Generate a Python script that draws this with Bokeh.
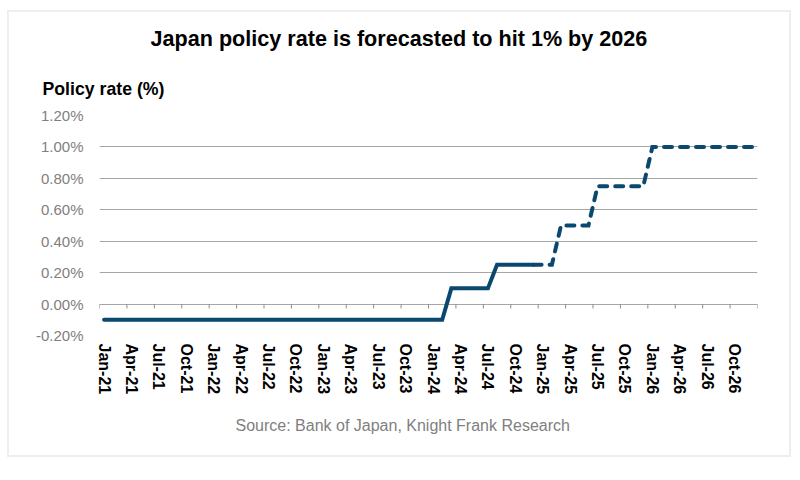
import math
from bokeh.plotting import figure
from bokeh.models import Range1d, FixedTicker, Title
from bokeh.embed import file_html
from bokeh.resources import INLINE

# ---- data (percent) ----
months = [
    "Jan-21","Feb-21","Mar-21","Apr-21","May-21","Jun-21","Jul-21","Aug-21","Sep-21","Oct-21","Nov-21","Dec-21",
    "Jan-22","Feb-22","Mar-22","Apr-22","May-22","Jun-22","Jul-22","Aug-22","Sep-22","Oct-22","Nov-22","Dec-22",
    "Jan-23","Feb-23","Mar-23","Apr-23","May-23","Jun-23","Jul-23","Aug-23","Sep-23","Oct-23","Nov-23","Dec-23",
    "Jan-24","Feb-24","Mar-24","Apr-24","May-24","Jun-24","Jul-24","Aug-24","Sep-24","Oct-24","Nov-24","Dec-24",
    "Jan-25","Feb-25","Mar-25","Apr-25","May-25","Jun-25","Jul-25","Aug-25","Sep-25","Oct-25","Nov-25","Dec-25",
    "Jan-26","Feb-26","Mar-26","Apr-26","May-26","Jun-26","Jul-26","Aug-26","Sep-26","Oct-26","Nov-26","Dec-26",
]

# actual policy rate, Jan-21 .. Dec-24
actual = [
    -0.10, -0.10, -0.10, -0.10, -0.10, -0.10, -0.10, -0.10, -0.10, -0.10, -0.10, -0.10,
    -0.10, -0.10, -0.10, -0.10, -0.10, -0.10, -0.10, -0.10, -0.10, -0.10, -0.10, -0.10,
    -0.10, -0.10, -0.10, -0.10, -0.10, -0.10, -0.10, -0.10, -0.10, -0.10, -0.10, -0.10,
    -0.10, -0.10, 0.10, 0.10, 0.10, 0.10, 0.10, 0.25, 0.25, 0.25, 0.25, 0.25,
]
# forecast, Dec-24 .. Dec-26
forecast = [
    0.25,
    0.25, 0.25, 0.50, 0.50, 0.50, 0.50, 0.75, 0.75, 0.75, 0.75, 0.75, 0.75,
    1.00, 1.00, 1.00, 1.00, 1.00, 1.00, 1.00, 1.00, 1.00, 1.00, 1.00, 1.00,
]

x_tick_labels = ["Jan-21","Apr-21","Jul-21","Oct-21","Jan-22","Apr-22","Jul-22","Oct-22",
                 "Jan-23","Apr-23","Jul-23","Oct-23","Jan-24","Apr-24","Jul-24","Oct-24",
                 "Jan-25","Apr-25","Jul-25","Oct-25","Jan-26","Apr-26","Jul-26","Oct-26"]
y_ticks = [-0.2, 0.0, 0.2, 0.4, 0.6, 0.8, 1.0, 1.2]
y_tick_labels = ["-0.20%", "0.00%", "0.20%", "0.40%", "0.60%", "0.80%", "1.00%", "1.20%"]

title_text = "Japan policy rate is forecasted to hit 1% by 2026"
ylabel_text = "Policy rate (%)"
source_text = "Source: Bank of Japan, Knight Frank Research"

FONT = "Liberation Sans"
LINE_COLOR = "#0b4870"
GRID = "#a6a6a6"

x_actual = [months.index(m) for m in months[:len(actual)]]
start_fc = len(actual) - 1
x_forecast = [start_fc + i for i in range(len(forecast))]

p = figure(width=784, height=447, output_backend="svg", toolbar_location=None,
           x_range=Range1d(-0.5, len(months) - 0.5), y_range=Range1d(-0.2, 1.2),
           min_border_left=90, min_border_right=36, min_border_top=103, min_border_bottom=124)
p.styles = {"border": "2px solid #eeeeee", "margin-top": "10px", "margin-left": "7px"}
p.outline_line_color = None
p.background_fill_color = "white"
p.border_fill_color = "white"

# y axis
p.yaxis.ticker = FixedTicker(ticks=y_ticks)
p.yaxis.major_label_overrides = {t: l for t, l in zip(y_ticks, y_tick_labels)}
p.yaxis.axis_line_color = None
p.yaxis.major_tick_line_color = None
p.yaxis.minor_tick_line_color = None
p.yaxis.major_label_text_font = FONT
p.yaxis.major_label_text_font_size = "15px"
p.yaxis.major_label_text_color = "#808080"
p.yaxis.major_label_standoff = 10

p.ygrid.ticker = FixedTicker(ticks=y_ticks)
p.ygrid.grid_line_color = GRID
p.ygrid.grid_line_width = 1
p.xgrid.grid_line_color = None

# x axis (labels only, below)
label_pos = [months.index(l) for l in x_tick_labels]
p.xaxis.ticker = FixedTicker(ticks=label_pos)
p.xaxis.major_label_overrides = {t: l for t, l in zip(label_pos, x_tick_labels)}
p.xaxis.major_label_orientation = -math.pi / 2
p.xaxis.axis_line_color = None
p.xaxis.major_tick_line_color = None
p.xaxis.minor_tick_line_color = None
p.xaxis.major_label_text_font = FONT
p.xaxis.major_label_text_font_style = "bold"
p.xaxis.major_label_text_font_size = "16px"
p.xaxis.major_label_text_color = "black"
p.xaxis.major_label_standoff = 2

# category-boundary tick marks on the zero line
bounds = [b - 0.5 for b in range(0, len(months) + 1, 3)]
p.segment(x0=bounds, y0=[0.0] * len(bounds), x1=bounds, y1=[-0.028] * len(bounds),
          line_color="#8c8c8c", line_width=1)

# lines
p.line(x_actual, actual, line_color=LINE_COLOR, line_width=4, line_cap="round", line_join="miter")
p.line(x_forecast, forecast, line_color=LINE_COLOR, line_width=4, line_cap="round",
       line_join="miter", line_dash="8 8")

# texts
p.title = Title(text=title_text, text_font=FONT, text_font_style="bold", text_font_size="21.6px",
                text_color="black", align="left", offset=51, standoff=19)
p.add_layout(Title(text=ylabel_text, text_font=FONT, text_font_style="bold", text_font_size="17.7px",
                   text_color="black", align="left", offset=-57, standoff=33), "above")
p.add_layout(Title(text=source_text, text_font=FONT, text_font_style="normal", text_font_size="16px",
                   text_color="#808080", align="left", offset=136, standoff=34), "below")

open("out.html", "w").write(file_html(p, INLINE))
